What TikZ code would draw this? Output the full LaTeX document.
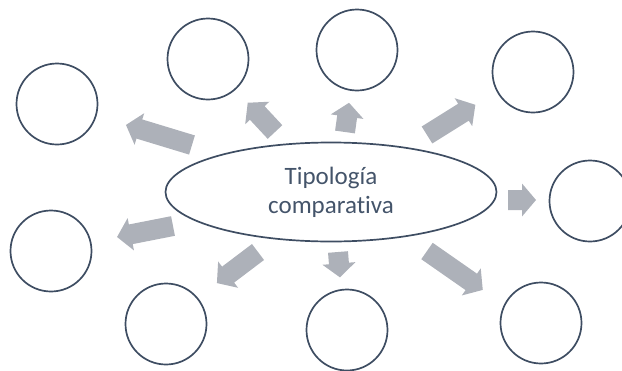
\documentclass[tikz,border=0pt]{standalone}
\usepackage{fontspec}
\setmainfont{Carlito}[Ligatures=NoCommon]
\usetikzlibrary{shapes.geometric}
\definecolor{slate}{HTML}{3E4D62}
\definecolor{textslate}{HTML}{44546A}
\definecolor{arrowgray}{HTML}{ADB1B9}
\tikzset{
  bubble/.style={circle, draw=slate, line width=1.7pt, minimum size=81pt, inner sep=0pt},
  hub/.style={ellipse, draw=slate, line width=1.7pt, minimum width=331pt, minimum height=99pt, inner sep=0pt,
    text=textslate, align=center, font=\fontsize{25pt}{29pt}\selectfont},
  pics/barrow/.style={code={
    \fill[arrowgray] (0,-10) -- ({#1-14},-10) -- ({#1-14},-16.5) -- (#1,0) -- ({#1-14},16.5) -- ({#1-14},10) -- (0,10) -- cycle;}}
}
\begin{document}
\begin{tikzpicture}[x=1pt,y=-1pt]
\useasboundingbox (0,0) rectangle (622,370);
\node[hub] (hub) at (331,192) {Tipología\\comparativa};
\node[bubble] (c1) at (57,104) {};
\node[bubble] (c2) at (208,59) {};
\node[bubble] (c3) at (357,50) {};
\node[bubble] (c4) at (533,72) {};
\node[bubble] (c5) at (590,201) {};
\node[bubble] (c6) at (51,251) {};
\node[bubble] (c7) at (166,324) {};
\node[bubble] (c8) at (347,330) {};
\node[bubble] (c9) at (541,323) {};
\pic[rotate=163.1] (a1) at (192,145) {barrow=69};
\pic[rotate=133] (a2) at (275,132) {barrow=40};
\pic[rotate=82.1] (a3) at (345,132) {barrow=29.5};
\pic[rotate=32] (a4) at (427,135) {barrow=57};
\pic[rotate=0] (a5) at (508,200) {barrow=28};
\pic[rotate=191.1] (a6) at (173,226) {barrow=57};
\pic[rotate=-142.9] (a7) at (258,252) {barrow=51.5};
\pic[rotate=-85.4] (a8) at (338,252) {barrow=25.5};
\pic[rotate=-34.9] (a9) at (427,251) {barrow=68};
\end{tikzpicture}
\end{document}
